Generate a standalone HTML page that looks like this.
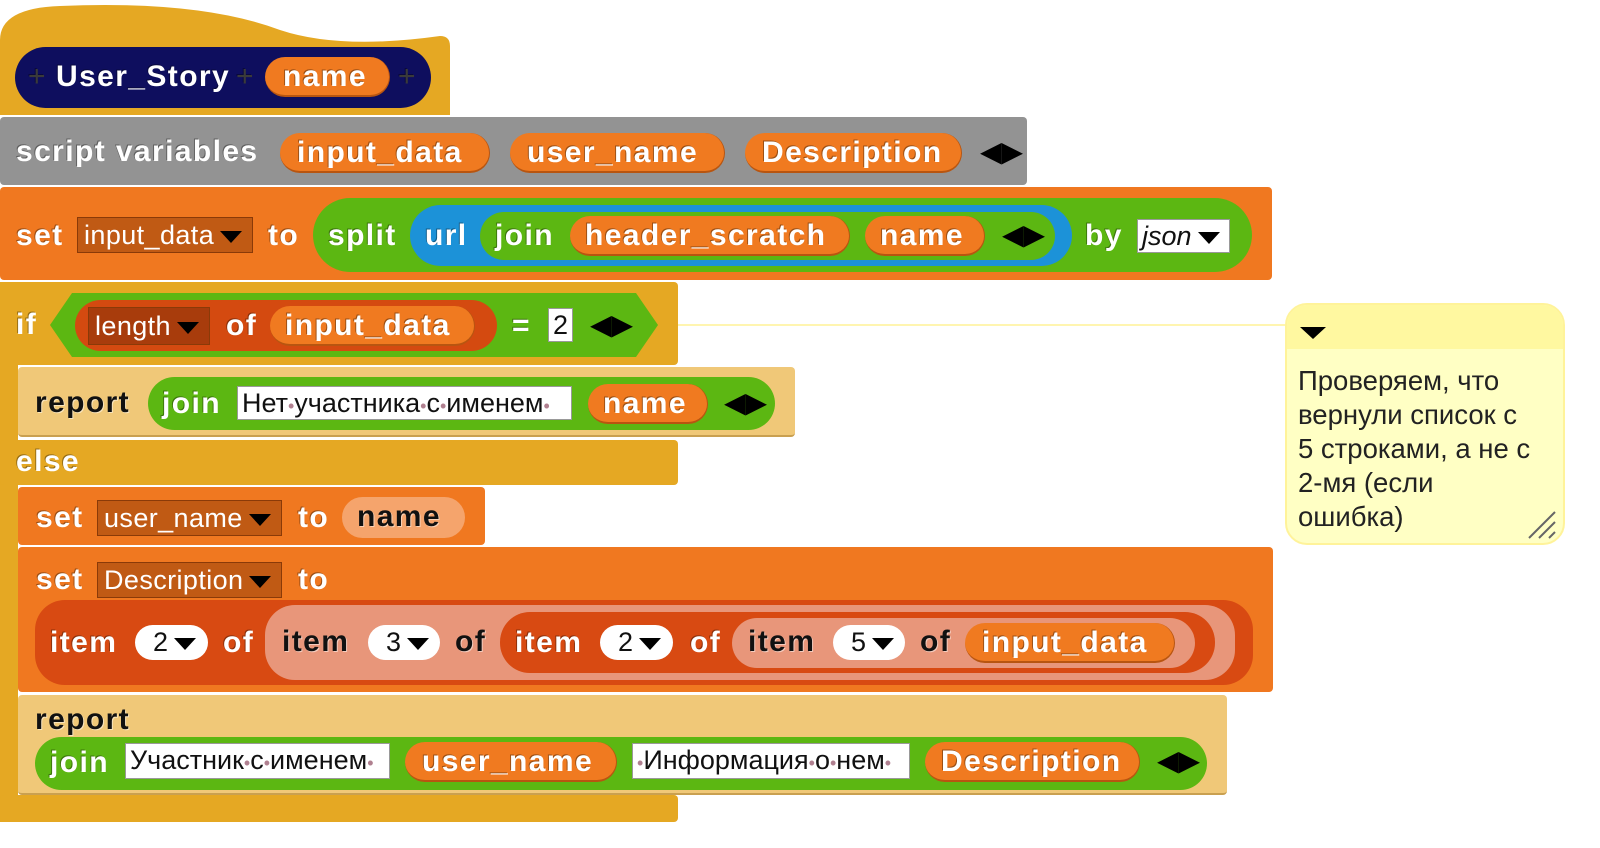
<!DOCTYPE html>
<html><head><meta charset="utf-8"><style>
body{margin:0;width:1600px;height:848px;background:#fff;position:relative;overflow:hidden;font-family:"Liberation Sans","DejaVu Sans",sans-serif}
.b{position:absolute;box-sizing:border-box}
.t{position:absolute;height:36px;line-height:36px;font-weight:bold;font-size:30px;letter-spacing:1.4px;color:#fff;white-space:nowrap;text-shadow:-1px -1px 0 rgba(0,0,0,.35)}
.k{color:#111;text-shadow:1px 1px 0 rgba(255,255,255,.5)}
.pill{position:absolute;border-radius:30px;box-sizing:border-box}
.or{background:#F07A20;border-bottom:2px solid #B85510;border-right:1px solid #B85510}
.dd{position:absolute;box-sizing:border-box;font-size:27px;letter-spacing:0.4px;line-height:34px;color:#fff;background:#C05A14;border:1px solid #8a3a08;padding-left:6px;white-space:nowrap}
.tri{display:inline-block;width:0;height:0;border-left:11px solid transparent;border-right:11px solid transparent;border-top:12px solid #000;vertical-align:middle;margin-left:6px}
.wb{position:absolute;box-sizing:border-box;background:#fff;border:1px solid #999;font-size:27px;line-height:32px;color:#111;padding-left:4px;white-space:nowrap}
.wd{position:absolute;box-sizing:border-box;background:#fff;border-radius:18px;font-size:27px;line-height:34px;color:#111;padding-left:18px;white-space:nowrap}
.dot{color:#b08090;font-size:18px}
.ar{position:absolute;height:36px;line-height:36px;font-size:28px;color:#000;white-space:nowrap}
</style></head><body>
<svg class="b" style="left:0;top:0" width="460" height="120"><path d="M0,40 Q0,8 60,6 Q200,0 280,30 Q340,50 440,36 Q450,36 450,46 L450,115 L0,115 Z" fill="#E5A823"/></svg>
<div class="pill" style="left:15px;top:47px;width:416px;height:61px;background:#0E0E5E;border-radius:31px"></div>
<div class="t" style="left:28px;top:59px;color:#3a3a3a;font-weight:normal">+</div>
<div class="t" style="left:56px;top:59px">User_Story</div>
<div class="t" style="left:236px;top:59px;color:#3a3a3a;font-weight:normal">+</div>
<div class="pill or" style="left:265px;top:57px;width:125px;height:40px"></div>
<div class="t" style="left:283px;top:59px">name</div>
<div class="t" style="left:398px;top:59px;color:#3a3a3a;font-weight:normal">+</div>

<div class="b" style="left:0;top:117px;width:1027px;height:68px;background:#939393;border-radius:4px"></div>
<div class="t" style="left:16px;top:134px">script variables</div>
<div class="pill or" style="left:280px;top:133px;width:210px;height:40px"></div><div class="t" style="left:297px;top:135px">input_data</div>
<div class="pill or" style="left:510px;top:133px;width:215px;height:40px"></div><div class="t" style="left:527px;top:135px">user_name</div>
<div class="pill or" style="left:745px;top:133px;width:217px;height:40px"></div><div class="t" style="left:762px;top:135px">Description</div>
<div class="ar" style="left:980px;top:134px">◀▶</div>

<div class="b" style="left:0;top:187px;width:1272px;height:93px;background:#F07820;border-radius:4px"></div>
<div class="t" style="left:16px;top:218px">set</div>
<div class="dd" style="left:77px;top:217px;width:176px;height:36px">input_data<span class="tri"></span></div>
<div class="t" style="left:268px;top:218px">to</div>
<div class="pill" style="left:313px;top:198px;width:939px;height:74px;background:#5CB712;border-radius:37px"></div>
<div class="t" style="left:328px;top:218px">split</div>
<div class="pill" style="left:410px;top:205px;width:662px;height:61px;background:#1C92D8;border-radius:31px"></div>
<div class="t" style="left:425px;top:218px">url</div>
<div class="pill" style="left:480px;top:212px;width:575px;height:48px;background:#5CB712"></div>
<div class="t" style="left:495px;top:218px">join</div>
<div class="pill or" style="left:570px;top:216px;width:280px;height:40px"></div><div class="t" style="left:585px;top:218px">header_scratch</div>
<div class="pill or" style="left:865px;top:216px;width:120px;height:40px"></div><div class="t" style="left:880px;top:218px">name</div>
<div class="ar" style="left:1002px;top:217px">◀▶</div>
<div class="t" style="left:1085px;top:218px">by</div>
<div class="wb" style="left:1137px;top:219px;width:93px;height:34px;font-style:italic">json<span class="tri"></span></div>

<div class="b" style="left:0;top:282px;width:678px;height:83px;background:#E5A823;border-radius:4px"></div>
<div class="b" style="left:0;top:282px;width:18px;height:540px;background:#E5A823"></div>
<div class="b" style="left:0;top:440px;width:678px;height:45px;background:#E5A823;border-radius:4px"></div>
<div class="b" style="left:0;top:795px;width:678px;height:27px;background:#E5A823;border-radius:4px"></div>
<div class="t" style="left:16px;top:307px">if</div>
<div class="t" style="left:16px;top:444px">else</div>
<svg class="b" style="left:50px;top:293px" width="610" height="65"><polygon points="0,32 22,0 586,0 608,32 586,64 22,64" fill="#5CB712"/></svg>
<div class="pill" style="left:75px;top:300px;width:422px;height:51px;background:#D44A10"></div>
<div class="dd" style="left:88px;top:307px;width:122px;height:38px;background:#A83C0C;line-height:36px">length<span class="tri"></span></div>
<div class="t" style="left:226px;top:308px">of</div>
<div class="pill or" style="left:270px;top:306px;width:205px;height:40px"></div><div class="t" style="left:285px;top:308px">input_data</div>
<div class="t" style="left:512px;top:308px">=</div>
<div class="wb" style="left:548px;top:308px;width:25px;height:34px">2</div>
<div class="ar" style="left:590px;top:307px">◀▶</div>

<div class="b" style="left:678px;top:324px;width:607px;height:2px;background:#FFF5B0"></div>
<div class="b" style="left:1285px;top:303px;width:280px;height:242px;background:#FFFFC4;border:2px solid #FFF39A;border-radius:22px"></div>
<div class="b" style="left:1287px;top:305px;width:276px;height:44px;background:#FFF8A0;border-radius:20px 20px 0 0"></div>
<div class="b" style="left:1300px;top:327px;width:0;height:0;border-left:13px solid transparent;border-right:13px solid transparent;border-top:12px solid #000"></div>
<div class="b" style="left:1298px;top:364px;font-size:27.5px;line-height:34px;color:#222;white-space:nowrap">Проверяем, что<br>вернули список с<br>5 строками, а не с<br>2-мя (если<br>ошибка)</div>
<svg class="b" style="left:1525px;top:508px" width="32" height="32"><path d="M4,30 L30,4 M14,30 L30,14 M24,30 L30,24" stroke="#666" stroke-width="2"/></svg>

<div class="b" style="left:18px;top:367px;width:777px;height:70px;background:#F0C878;border-radius:4px;border-bottom:2px solid #c9a050"></div>
<div class="t k" style="left:35px;top:385px">report</div>
<div class="pill" style="left:148px;top:377px;width:627px;height:53px;background:#5CB712"></div>
<div class="t" style="left:162px;top:386px">join</div>
<div class="wb" style="left:237px;top:386px;width:335px;height:34px">Нет<span class="dot">•</span>участника<span class="dot">•</span>с<span class="dot">•</span>именем<span class="dot">•</span></div>
<div class="pill or" style="left:588px;top:384px;width:120px;height:40px"></div><div class="t" style="left:603px;top:386px">name</div>
<div class="ar" style="left:724px;top:385px">◀▶</div>

<div class="b" style="left:18px;top:487px;width:467px;height:58px;background:#F07820;border-radius:4px"></div>
<div class="t" style="left:36px;top:500px">set</div>
<div class="dd" style="left:97px;top:500px;width:185px;height:36px">user_name<span class="tri"></span></div>
<div class="t" style="left:298px;top:500px">to</div>
<div class="pill" style="left:342px;top:497px;width:123px;height:41px;background:#F5A46C"></div><div class="t k" style="left:357px;top:499px">name</div>

<div class="b" style="left:18px;top:547px;width:1255px;height:145px;background:#F07820;border-radius:4px"></div>
<div class="t" style="left:36px;top:562px">set</div>
<div class="dd" style="left:97px;top:562px;width:185px;height:36px">Description<span class="tri"></span></div>
<div class="t" style="left:298px;top:562px">to</div>
<div class="pill" style="left:35px;top:600px;width:1218px;height:85px;background:#D84A12;border-radius:30px"></div>
<div class="t" style="left:50px;top:625px">item</div>
<div class="wd" style="left:135px;top:625px;width:73px;height:35px">2<span class="tri"></span></div>
<div class="t" style="left:223px;top:625px">of</div>
<div class="pill" style="left:265px;top:605px;width:970px;height:75px;background:#E8967A;border-radius:30px"></div>
<div class="t k" style="left:282px;top:624px">item</div>
<div class="wd" style="left:368px;top:625px;width:72px;height:35px">3<span class="tri"></span></div>
<div class="t k" style="left:455px;top:624px">of</div>
<div class="pill" style="left:500px;top:612px;width:715px;height:61px;background:#D84A12"></div>
<div class="t" style="left:515px;top:625px">item</div>
<div class="wd" style="left:600px;top:625px;width:73px;height:35px">2<span class="tri"></span></div>
<div class="t" style="left:690px;top:625px">of</div>
<div class="pill" style="left:732px;top:618px;width:463px;height:50px;background:#E8967A"></div>
<div class="t k" style="left:748px;top:624px">item</div>
<div class="wd" style="left:833px;top:625px;width:72px;height:35px">5<span class="tri"></span></div>
<div class="t k" style="left:920px;top:624px">of</div>
<div class="pill or" style="left:965px;top:623px;width:210px;height:40px"></div><div class="t" style="left:982px;top:625px">input_data</div>

<div class="b" style="left:18px;top:695px;width:1209px;height:100px;background:#F0C878;border-radius:4px;border-bottom:2px solid #c9a050"></div>
<div class="t k" style="left:35px;top:702px">report</div>
<div class="pill" style="left:35px;top:737px;width:1172px;height:53px;background:#5CB712"></div>
<div class="t" style="left:50px;top:745px">join</div>
<div class="wb" style="left:125px;top:743px;width:265px;height:36px">Участник<span class="dot">•</span>с<span class="dot">•</span>именем<span class="dot">•</span></div>
<div class="pill or" style="left:405px;top:742px;width:212px;height:40px"></div><div class="t" style="left:422px;top:744px">user_name</div>
<div class="wb" style="left:632px;top:743px;width:278px;height:36px"><span class="dot">•</span>Информация<span class="dot">•</span>о<span class="dot">•</span>нем<span class="dot">•</span></div>
<div class="pill or" style="left:925px;top:742px;width:215px;height:40px"></div><div class="t" style="left:941px;top:744px">Description</div>
<div class="ar" style="left:1157px;top:743px">◀▶</div>
</body></html>
